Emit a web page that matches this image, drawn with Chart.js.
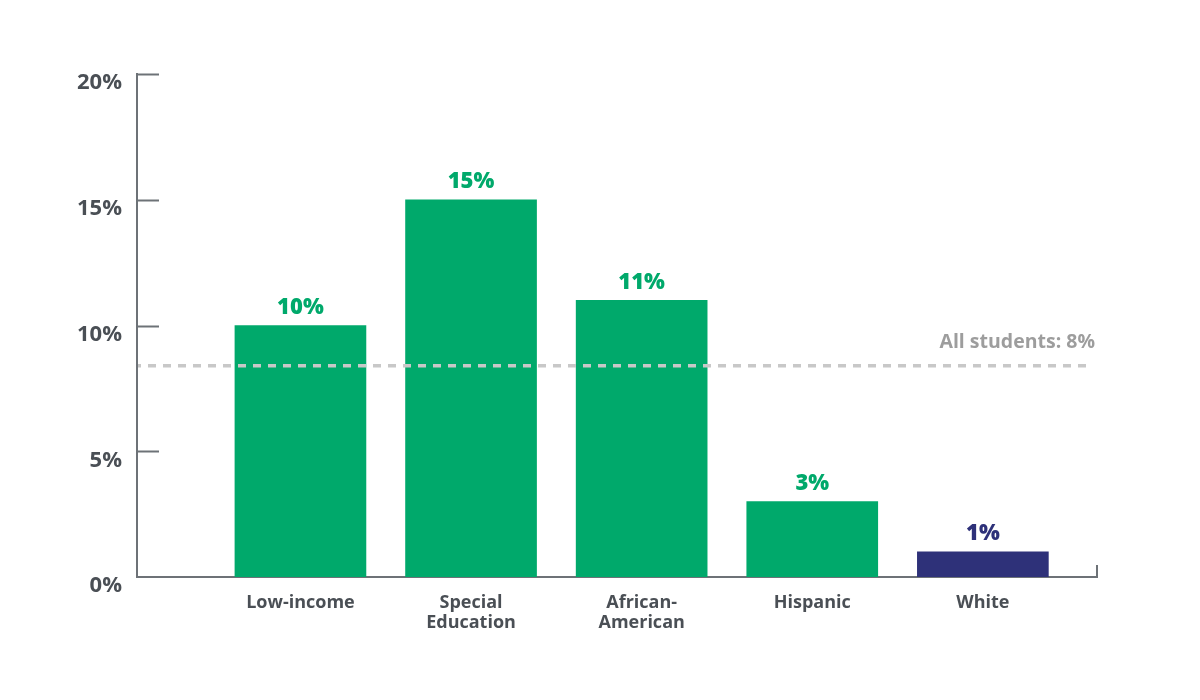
<!DOCTYPE html>
<html lang="en">
<head>
    <meta charset="UTF-8">
    <title>Students by group</title>
    <script src="https://cdn.jsdelivr.net/npm/chart.js"></script>
    <style>
        html, body { margin: 0; padding: 0; background: #ffffff; }
        #wrap { width: 1200px; height: 700px; }
    </style>
</head>
<body>
    <div id="wrap"><canvas id="myChart" width="1200" height="700"></canvas></div>
    <script>
        // data
        const categories = ['Low-income', 'Special\nEducation', 'African-\nAmerican', 'Hispanic', 'White'];
        const values = [10, 15, 11, 3, 1];
        const valueLabels = ['10%', '15%', '11%', '3%', '1%'];
        const yTicks = [0, 5, 10, 15, 20];
        const allStudentsValue = 8.4;
        const allStudentsLabel = 'All students: 8%';

        const green = '#00a96b';
        const navy = '#2e3179';
        const axisColor = '#6d7277';
        const textColor = '#4a4f55';
        const barColors = values.map((v, i) => i === values.length - 1 ? navy : green);

        // short tick marks inside the plot + end tick on x axis
        const axisMarks = {
            id: 'axisMarks',
            afterDraw(chart) {
                const ctx = chart.ctx;
                const area = chart.chartArea;
                const y = chart.scales.y;
                ctx.save();
                ctx.strokeStyle = axisColor;
                ctx.lineWidth = 2;
                yTicks.forEach(t => {
                    if (t === 0) return;
                    const py = Math.round(y.getPixelForValue(t)) + 0.5;
                    ctx.beginPath();
                    ctx.moveTo(area.left, py);
                    ctx.lineTo(area.left + 22, py);
                    ctx.stroke();
                });
                ctx.beginPath();
                ctx.moveTo(area.right, area.bottom);
                ctx.lineTo(area.right, area.bottom - 12);
                ctx.stroke();
                ctx.restore();
            }
        };

        // dashed "all students" line, drawn over the bars
        const refLine = {
            id: 'refLine',
            afterDatasetsDraw(chart) {
                const ctx = chart.ctx;
                const area = chart.chartArea;
                const py = chart.scales.y.getPixelForValue(allStudentsValue);
                ctx.save();
                ctx.strokeStyle = '#c8c8c8';
                ctx.lineWidth = 3.5;
                ctx.setLineDash([8, 7]);
                ctx.lineDashOffset = 5;
                ctx.beginPath();
                ctx.moveTo(area.left + 1, py);
                ctx.lineTo(area.right - 4, py);
                ctx.stroke();
                ctx.setLineDash([]);
                ctx.fillStyle = '#9d9d9d';
                ctx.font = 'bold 19.5px "Open Sans"';
                ctx.textAlign = 'right';
                ctx.textBaseline = 'middle';
                ctx.fillText(allStudentsLabel, area.right - 2, py - 23);
                ctx.restore();
            }
        };

        // value labels above bars
        const barLabels = {
            id: 'barLabels',
            afterDatasetsDraw(chart) {
                const ctx = chart.ctx;
                const meta = chart.getDatasetMeta(0);
                ctx.save();
                ctx.font = '800 22px "Open Sans"';
                ctx.textAlign = 'center';
                ctx.textBaseline = 'middle';
                meta.data.forEach((bar, i) => {
                    ctx.fillStyle = barColors[i];
                    ctx.fillText(valueLabels[i], bar.x, bar.y - 18);
                });
                ctx.restore();
            }
        };

        const ctx = document.getElementById('myChart').getContext('2d');
        new Chart(ctx, {
            type: 'bar',
            data: {
                datasets: [{
                    data: categories.map((c, i) => ({ x: i + 1, y: values[i] })),
                    backgroundColor: barColors,
                    borderWidth: 0,
                    barThickness: 131
                }]
            },
            options: {
                responsive: false,
                animation: false,
                layout: { padding: { left: 0, top: 74, right: 103, bottom: 0 } },
                plugins: {
                    legend: { display: false },
                    tooltip: { enabled: false }
                },
                scales: {
                    x: {
                        type: 'linear',
                        offset: false,
                        min: 0.042,
                        max: 5.669,
                        afterBuildTicks(scale) {
                            scale.ticks = categories.map((c, i) => ({ value: i + 1 }));
                        },
                        afterFit(scale) { scale.height = 123; },
                        grid: { display: false, drawTicks: false, offset: false },
                        border: { display: true, color: axisColor, width: 2 },
                        ticks: {
                            padding: 16,
                            color: textColor,
                            font: { family: 'Open Sans', weight: 'bold', size: 18, lineHeight: 1.1 },
                            maxRotation: 0,
                            autoSkip: false,
                            callback: v => categories[v - 1] ? categories[v - 1].split('\n') : ''
                        }
                    },
                    y: {
                        min: 0,
                        max: 20,
                        afterBuildTicks(scale) {
                            scale.ticks = yTicks.map(v => ({ value: v }));
                        },
                        afterFit(scale) { scale.width = 137; },
                        grid: { display: false, drawTicks: false },
                        border: { display: true, color: axisColor, width: 2 },
                        ticks: {
                            padding: 15,
                            labelOffset: 9,
                            color: textColor,
                            font: { family: 'Open Sans', weight: 'bold', size: 22 },
                            callback: v => v + '%'
                        }
                    }
                }
            },
            plugins: [refLine, barLabels, axisMarks]
        });
    </script>
</body>
</html>
